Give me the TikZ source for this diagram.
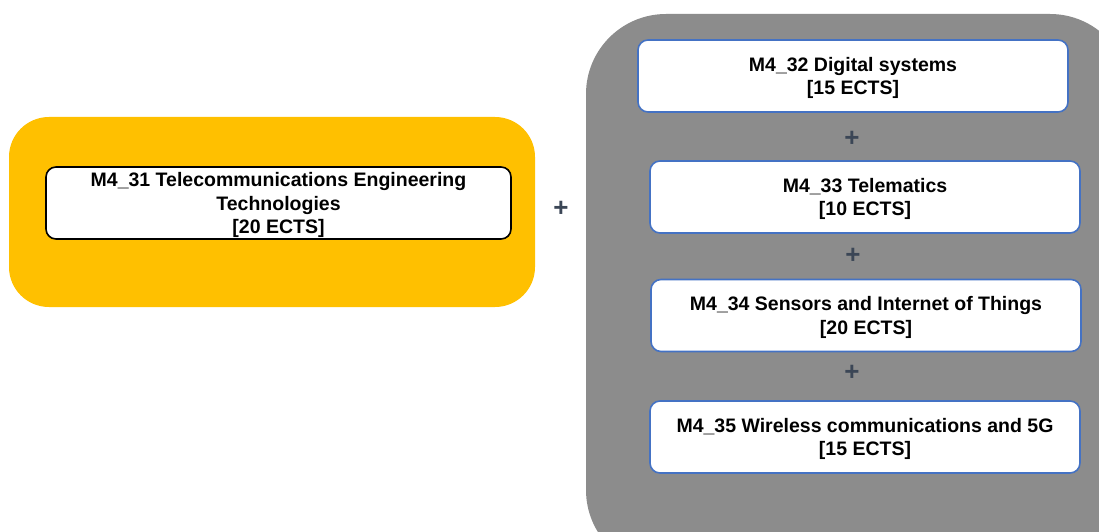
\documentclass[tikz,border=0pt]{standalone}
\usepackage{fontspec}
\setmainfont{Liberation Sans}
\definecolor{ygold}{HTML}{FFC000}
\definecolor{gbg}{HTML}{8C8C8C}
\definecolor{bblue}{HTML}{4472C4}
\definecolor{plusc}{HTML}{3B4656}
\tikzset{
  modbox/.style={draw=bblue, line width=1.6pt, fill=white, rounded corners=10pt, minimum width=430pt, minimum height=72pt, align=center, inner sep=0pt, text depth=-1pt, font=\fontsize{19.5}{23.5}\selectfont\bfseries},
  leftbox/.style={draw=black, line width=1.6pt, fill=white, rounded corners=10pt, minimum width=465pt, minimum height=72pt, align=center, inner sep=0pt, text depth=-1pt, font=\fontsize{19.5}{23.5}\selectfont\bfseries},
  plussign/.style={text=plusc, font=\fontsize{26}{26}\selectfont\bfseries, inner sep=0pt}
}
\begin{document}
\begin{tikzpicture}[x=1pt,y=-1pt]
\useasboundingbox (0,0) rectangle (1099,532);
\clip (0,0) rectangle (1099,532);
\fill[white] (0,0) rectangle (1099,532);
% yellow group
\fill[ygold, rounded corners=40pt] (9,117) rectangle (535,307);
% gray group
\fill[gbg, rounded corners=80pt] (586,14) rectangle (1130,570);
\node[leftbox] (m31) at (278.5,203) {M4\_31 Telecommunications Engineering\\Technologies\\{[}20 ECTS{]}};
\node[plussign] (p0) at (561,209) {+};
\node[modbox] (m32) at (853,76) {M4\_32 Digital systems\\{[}15 ECTS{]}};
\node[plussign] (p1) at (852,139) {+};
\node[modbox] (m33) at (865,197) {M4\_33 Telematics\\{[}10 ECTS{]}};
\node[plussign] (p2) at (853,256) {+};
\node[modbox] (m34) at (866,315.5) {M4\_34 Sensors and Internet of Things\\{[}20 ECTS{]}};
\node[plussign] (p3) at (852,373) {+};
\node[modbox] (m35) at (865,437) {M4\_35 Wireless communications and 5G\\{[}15 ECTS{]}};
\end{tikzpicture}
\end{document}
